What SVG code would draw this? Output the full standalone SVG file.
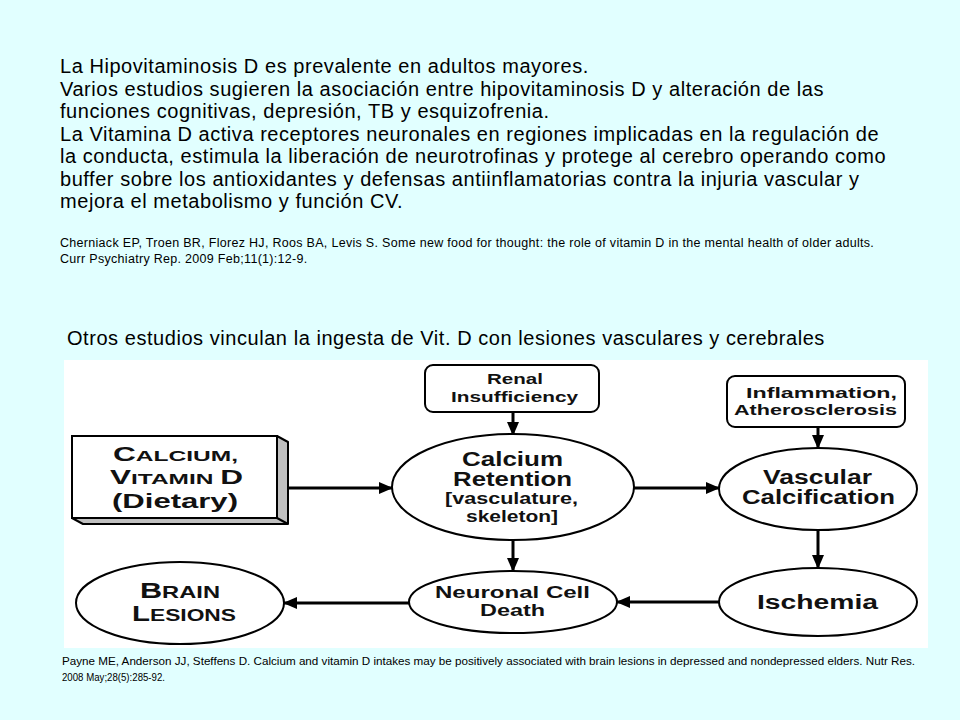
<svg xmlns="http://www.w3.org/2000/svg" width="960" height="720" viewBox="0 0 960 720">
<style>
.body{font-family:"Liberation Sans",Arial,sans-serif;font-size:20px;letter-spacing:0.55px;fill:#000}
.cite{font-family:"Liberation Sans",Arial,sans-serif;font-size:12.5px;letter-spacing:0.3px;fill:#000}
.foot{font-family:"Liberation Sans",Arial,sans-serif;font-size:11.5px;fill:#000}
.lbl{font-family:"Liberation Sans",Arial,sans-serif;font-weight:bold;fill:#111;text-anchor:middle}
.shape{fill:#fff;stroke:#000;stroke-width:2}
.conn{stroke:#000;stroke-width:3;fill:none}
</style>
<defs>
<marker id="ah" markerUnits="userSpaceOnUse" markerWidth="14" markerHeight="14" viewBox="0 0 14 14" refX="13" refY="7" orient="auto">
<path d="M0,1 L14,7 L0,13 Z" fill="#000"/>
</marker>
</defs>
<rect x="0" y="0" width="960" height="720" fill="#E1FFFF"/>
<g id="intro">
<text class="body" x="60" y="73">La Hipovitaminosis D es prevalente en adultos mayores.</text>
<text class="body" x="60" y="95.5">Varios estudios sugieren la asociación entre hipovitaminosis D y alteración de las</text>
<text class="body" x="60" y="118">funciones cognitivas, depresión, TB y esquizofrenia.</text>
<text class="body" x="60" y="140.5">La Vitamina D activa receptores neuronales en regiones implicadas en la regulación de</text>
<text class="body" x="60" y="163">la conducta, estimula la liberación de neurotrofinas y protege al cerebro operando como</text>
<text class="body" x="60" y="185.5">buffer sobre los antioxidantes y defensas antiinflamatorias contra la injuria vascular y</text>
<text class="body" x="60" y="208">mejora el metabolismo y función CV.</text>
<text class="cite" x="60" y="247">Cherniack EP, Troen BR, Florez HJ, Roos BA, Levis S. Some new food for thought: the role of vitamin D in the mental health of older adults.</text>
<text class="cite" x="60" y="263">Curr Psychiatry Rep. 2009 Feb;11(1):12-9.</text>
<text class="body" x="67" y="345">Otros estudios vinculan la ingesta de Vit. D con lesiones vasculares y cerebrales</text>
</g>
<rect id="panel" x="64" y="360" width="864" height="288" fill="#fff"/>
<g id="connectors">
<line class="conn" x1="289" y1="488" x2="392" y2="488" marker-end="url(#ah)"/>
<line class="conn" x1="633" y1="488" x2="719" y2="488" marker-end="url(#ah)"/>
<line class="conn" x1="513" y1="412" x2="513" y2="435" marker-end="url(#ah)"/>
<line class="conn" x1="818" y1="427" x2="818" y2="448" marker-end="url(#ah)"/>
<line class="conn" x1="818" y1="530" x2="818" y2="568" marker-end="url(#ah)"/>
<line class="conn" x1="513" y1="540" x2="513" y2="571" marker-end="url(#ah)"/>
<line class="conn" x1="719" y1="602" x2="617" y2="602" marker-end="url(#ah)"/>
<line class="conn" x1="409" y1="603" x2="284" y2="603" marker-end="url(#ah)"/>
</g>
<g id="calcium-dietary">
<path d="M277,436 L288,442 L288,524 L83,524 L72,518 L277,518 Z" fill="#c0c0c0" stroke="#000" stroke-width="2" stroke-linejoin="round"/>
<line x1="277" y1="518" x2="288" y2="524" stroke="#000" stroke-width="2"/>
<rect class="shape" x="72" y="436" width="205" height="82"/>
<text class="lbl" x="175.5" y="461" textLength="125" lengthAdjust="spacingAndGlyphs"><tspan font-size="20">C</tspan><tspan font-size="15.5">ALCIUM,</tspan></text>
<text class="lbl" x="176.5" y="484" textLength="133" lengthAdjust="spacingAndGlyphs"><tspan font-size="20">V</tspan><tspan font-size="15.5">ITAMIN </tspan><tspan font-size="20">D</tspan></text>
<text class="lbl" x="175" y="508" font-size="20" textLength="126" lengthAdjust="spacingAndGlyphs">(Dietary)</text>
</g>
<g id="renal">
<rect class="shape" x="425" y="365" width="174" height="47" rx="8"/>
<text class="lbl" x="515" y="384" font-size="15.5" textLength="56" lengthAdjust="spacingAndGlyphs">Renal</text>
<text class="lbl" x="514.5" y="402" font-size="15.5" textLength="127" lengthAdjust="spacingAndGlyphs">Insufficiency</text>
</g>
<g id="inflammation">
<rect class="shape" x="727" y="376" width="178" height="51" rx="8"/>
<text class="lbl" x="821.5" y="398" font-size="15" textLength="151" lengthAdjust="spacingAndGlyphs">Inflammation,</text>
<text class="lbl" x="815.5" y="415" font-size="15" textLength="163" lengthAdjust="spacingAndGlyphs">Atherosclerosis</text>
</g>
<g id="calcium-retention">
<ellipse class="shape" cx="513" cy="487" rx="121" ry="53"/>
<text class="lbl" x="512.5" y="466" font-size="20" textLength="101" lengthAdjust="spacingAndGlyphs">Calcium</text>
<text class="lbl" x="512.5" y="486" font-size="20" textLength="119" lengthAdjust="spacingAndGlyphs">Retention</text>
<text class="lbl" x="511.5" y="504" font-size="16" textLength="133" lengthAdjust="spacingAndGlyphs">[vasculature,</text>
<text class="lbl" x="512" y="522" font-size="16" textLength="92" lengthAdjust="spacingAndGlyphs">skeleton]</text>
</g>
<g id="vascular-calcification">
<ellipse class="shape" cx="818" cy="489" rx="99" ry="41"/>
<text class="lbl" x="817.5" y="484" font-size="20" textLength="109" lengthAdjust="spacingAndGlyphs">Vascular</text>
<text class="lbl" x="818.5" y="504" font-size="20" textLength="153" lengthAdjust="spacingAndGlyphs">Calcification</text>
</g>
<g id="ischemia">
<ellipse class="shape" cx="818" cy="602" rx="99" ry="34"/>
<text class="lbl" x="817.5" y="609" font-size="20" textLength="121" lengthAdjust="spacingAndGlyphs">Ischemia</text>
</g>
<g id="neuronal-death">
<ellipse class="shape" cx="513" cy="602" rx="104" ry="31"/>
<text class="lbl" x="512.5" y="598" font-size="17" textLength="155" lengthAdjust="spacingAndGlyphs">Neuronal Cell</text>
<text class="lbl" x="512.5" y="616" font-size="17" textLength="65" lengthAdjust="spacingAndGlyphs">Death</text>
</g>
<g id="brain-lesions">
<ellipse class="shape" cx="180" cy="603" rx="104" ry="41"/>
<text class="lbl" x="180" y="598" textLength="80" lengthAdjust="spacingAndGlyphs"><tspan font-size="22">B</tspan><tspan font-size="17">RAIN</tspan></text>
<text class="lbl" x="184" y="621" textLength="104" lengthAdjust="spacingAndGlyphs"><tspan font-size="22">L</tspan><tspan font-size="17">ESIONS</tspan></text>
</g>
<g id="footer">
<text class="foot" x="62" y="665" textLength="853" lengthAdjust="spacingAndGlyphs">Payne ME, Anderson JJ, Steffens D. Calcium and vitamin D intakes may be positively associated with brain lesions in depressed and nondepressed elders. Nutr Res.</text>
<text class="foot" x="62" y="681" textLength="103" lengthAdjust="spacingAndGlyphs">2008 May;28(5):285-92.</text>
</g>
</svg>
